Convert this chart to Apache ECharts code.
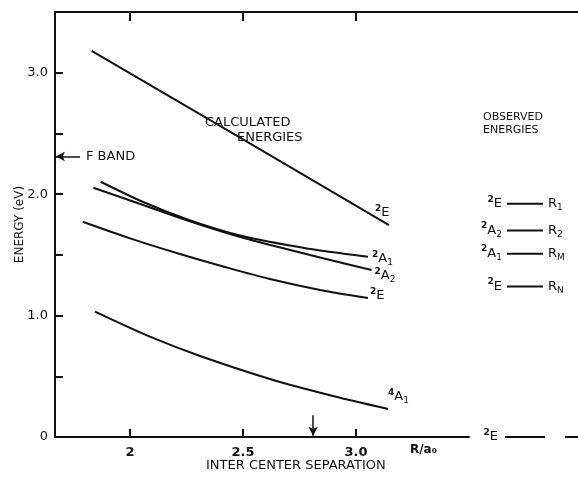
<!DOCTYPE html>
<html>
<head>
<meta charset="utf-8">
<script src="https://cdn.jsdelivr.net/npm/echarts@6/dist/echarts.min.js"></script>
<style>html,body{margin:0;padding:0;background:#fff}#c{width:578px;height:478px}</style>
</head>
<body>
<div id="c"></div>
<script>
// ---- data ----
const X_MIN = 1.668, X_MAX = 3.5;
const Y_MIN = 0, Y_MAX = 3.5;
const X_TICKS = [2, 2.5, 3];
const X_TICK_LABELS = ['2', '2.5', '3.0'];
const Y_TICK_LABELS = {0: '0', 1: '1.0', 2: '2.0', 3: '3.0'};

const calc2E_upper = [[1.830, 3.18], [2.487, 2.465], [3.146, 1.745]];
const calc2A1 = [[1.870, 2.102], [2.058, 1.935], [2.248, 1.795], [2.420, 1.692], [2.544, 1.635], [2.708, 1.577], [2.841, 1.536], [3.053, 1.485]];
const calc2A2 = [[1.838, 2.053], [2.058, 1.911], [2.248, 1.787], [2.420, 1.684], [2.544, 1.618], [2.708, 1.540], [2.841, 1.478], [3.069, 1.375]];
const calc2E_lower = [[1.791, 1.773], [2.000, 1.636], [2.221, 1.507], [2.428, 1.396], [2.619, 1.301], [2.841, 1.211], [3.053, 1.145]];
const calc4A1 = [[1.845, 1.032], [2.088, 0.826], [2.310, 0.667], [2.619, 0.478], [2.898, 0.338], [3.142, 0.231]];

const observedEnergies = [1.92, 1.70, 1.51, 1.24];
const observedStates = ['{s|2}{m|E}', '{s|2}{m|A}{b|2}', '{s|2}{m|A}{b|1}', '{s|2}{m|E}'];
const observedLines = ['{m|R}{b|1}', '{m|R}{b|2}', '{m|R}{b|M}', '{m|R}{b|N}'];
const groundEnergy = 0;

const F_BAND = 2.31;
const MARKED_R = 2.81;

// ---- layout ----
const FONT = 'DejaVu Sans';
const INK = '#111';
const rich = {
  s: {fontSize: 9, fontWeight: 'bold', fontFamily: FONT, color: INK, padding: [0, 0, 9, 0]},
  m: {fontSize: 13, fontFamily: FONT, color: INK},
  b: {fontSize: 9, fontFamily: FONT, color: INK, padding: [8, 0, 0, 0]}
};
const G2_MAX = X_MIN + (X_MAX - X_MIN) * 523 / 414;
const OBS_X0 = X_MIN + (507 - 55) / 226, OBS_X1 = X_MIN + (543 - 55) / 226;
const GND_X0 = X_MIN + (505 - 55) / 226, GND_X1 = X_MIN + (545 - 55) / 226;
const GND_X2 = X_MIN + (565 - 55) / 226;

function curve(data, label, offset, smooth) {
  return {
    type: 'line', xAxisIndex: 0, yAxisIndex: 0, data: data, smooth: smooth,
    showSymbol: false, symbol: 'none', silent: true,
    lineStyle: {color: INK, width: 2},
    endLabel: {show: true, formatter: label, rich: rich, offset: offset, distance: 2}
  };
}

const series = [
  curve(calc2E_upper, '{s|2}{m|E}', [-16, -12], false),
  curve(calc2A1, '{s|2}{m|A}{b|1}', [2, 2], 0.3),
  curve(calc2A2, '{s|2}{m|A}{b|2}', [1, 6], 0.3),
  curve(calc2E_lower, '{s|2}{m|E}', [0, -2], 0.3),
  curve(calc4A1, '{s|4}{m|A}{b|1}', [-2, -12], 0.3),
  {
    type: 'line', xAxisIndex: 0, yAxisIndex: 0, data: [], silent: true,
    markLine: {
      silent: true, symbol: ['none', 'arrow'], symbolSize: [7, 9],
      lineStyle: {color: INK, width: 1.5, type: 'solid'}, label: {show: false},
      data: [
        [{coord: [X_MIN + 0.111, F_BAND]}, {coord: [X_MIN + 0.004, F_BAND]}],
        [{coord: [MARKED_R, 0.18]}, {coord: [MARKED_R, 0.01]}]
      ]
    }
  }
];

function levelSeries(data) {
  return {
    type: 'line', xAxisIndex: 1, yAxisIndex: 1, silent: true, clip: false,
    symbol: 'circle', symbolSize: 0, showSymbol: true,
    itemStyle: {color: INK}, lineStyle: {color: INK, width: 2},
    data: data
  };
}

observedEnergies.forEach(function (e, i) {
  series.push(levelSeries([
    {value: [OBS_X0, e], label: {show: true, position: 'left', distance: 5, formatter: observedStates[i], rich: rich}},
    {value: [OBS_X1, e], label: {show: true, position: 'right', distance: 5, formatter: observedLines[i], rich: rich}}
  ]));
});
series.push(levelSeries([
  {value: [GND_X0, groundEnergy], label: {show: true, position: 'left', distance: 7, formatter: '{s|2}{m|E}', rich: rich}},
  {value: [GND_X1, groundEnergy]}
]));
series.push(levelSeries([[GND_X2, groundEnergy], [G2_MAX, groundEnergy]]));

const chart = echarts.init(document.getElementById('c'), null, {renderer: 'canvas'});
chart.setOption({
  backgroundColor: '#fff',
  animation: false,
  grid: [
    {left: 55, right: 109, top: 12, bottom: 41},
    {left: 55, right: 0, top: 12, bottom: 41}
  ],
  xAxis: [
    {
      type: 'value', gridIndex: 0, min: X_MIN, max: X_MAX, position: 'bottom',
      axisLine: {show: true, onZero: false, lineStyle: {color: INK, width: 2}},
      axisTick: {show: true, inside: true, length: 8, customValues: X_TICKS, lineStyle: {color: INK, width: 2}},
      axisLabel: {show: true, customValues: X_TICKS, margin: 9, color: INK, fontFamily: FONT, fontSize: 13, fontWeight: 'bold',
        formatter: function (v) { const k = X_TICKS.findIndex(function (t) { return Math.abs(t - v) < 1e-6; }); return k >= 0 ? X_TICK_LABELS[k] : ''; }},
      splitLine: {show: false}
    },
    {
      type: 'value', gridIndex: 1, min: X_MIN, max: G2_MAX, position: 'top',
      axisLine: {show: true, onZero: false, lineStyle: {color: INK, width: 2}},
      axisTick: {show: true, inside: true, length: 9, customValues: X_TICKS, lineStyle: {color: INK, width: 2}},
      axisLabel: {show: false},
      splitLine: {show: false}
    }
  ],
  yAxis: [
    {
      type: 'value', gridIndex: 0, min: Y_MIN, max: Y_MAX, interval: 0.5,
      name: 'ENERGY (eV)', nameLocation: 'middle', nameGap: 29, nameRotate: 90, nameMoveOverlap: false,
      nameTextStyle: {color: INK, fontFamily: FONT, fontSize: 12},
      axisLine: {show: true, onZero: false, lineStyle: {color: INK, width: 2}},
      axisTick: {show: true, inside: true, length: 8, lineStyle: {color: INK, width: 2}},
      axisLabel: {show: true, margin: 7, color: INK, fontFamily: FONT, fontSize: 13,
        formatter: function (v) { return Y_TICK_LABELS[v] !== undefined ? Y_TICK_LABELS[v] : ''; }},
      splitLine: {show: false}
    },
    {
      type: 'value', gridIndex: 1, min: Y_MIN, max: Y_MAX, show: false
    }
  ],
  graphic: [
    {type: 'text', left: 205, top: 116, style: {text: 'CALCULATED', font: '13px "DejaVu Sans"', fill: INK}},
    {type: 'text', left: 237, top: 131, style: {text: 'ENERGIES', font: '13px "DejaVu Sans"', fill: INK}},
    {type: 'text', left: 483, top: 112, style: {text: 'OBSERVED', font: '11px "DejaVu Sans"', fill: INK}},
    {type: 'text', left: 483, top: 125, style: {text: 'ENERGIES', font: '11px "DejaVu Sans"', fill: INK}},
    {type: 'text', left: 86, top: 150, style: {text: 'F BAND', font: '13px "DejaVu Sans"', fill: INK}},
    {type: 'text', left: 410, top: 444, style: {text: 'R/a\u2080', font: 'bold 12px "DejaVu Sans"', fill: INK}},
    {type: 'text', left: 206, top: 459, style: {text: 'INTER CENTER SEPARATION', font: '13px "DejaVu Sans"', fill: INK}}
  ],
  series: series
});
</script>
</body>
</html>
